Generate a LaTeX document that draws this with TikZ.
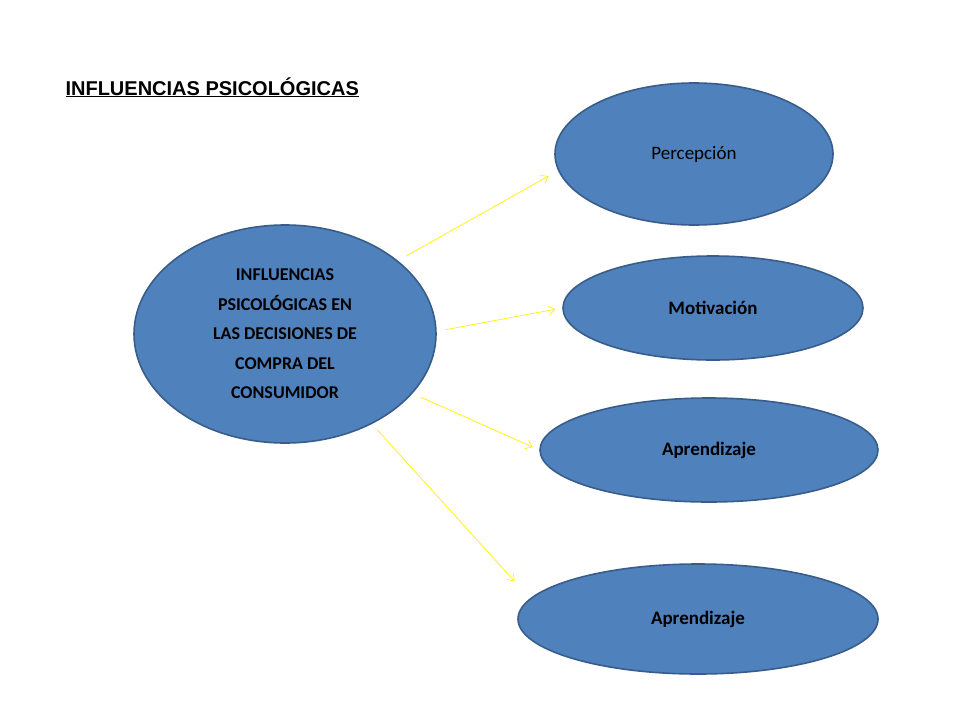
\documentclass[tikz,border=0pt]{standalone}
\usepackage{fontspec}
\setmainfont{Carlito}
\newfontfamily\arialfont{Liberation Sans}
\usetikzlibrary{shapes.geometric}
\definecolor{blobfill}{HTML}{4F81BD}
\definecolor{blobline}{HTML}{385D8A}
\tikzset{blob/.style={ellipse,fill=blobfill,draw=blobline,line width=1.6pt,inner sep=0pt},
 link/.style={-{Straight Barb[length=6pt,width=9pt]},draw=yellow,line width=0.7pt}}
\usetikzlibrary{arrows.meta}
\begin{document}
\begin{tikzpicture}[x=1pt,y=-1pt]
 \useasboundingbox[fill=white](0,0) rectangle (960,720);
 \node[anchor=base west,font=\arialfont\bfseries\fontsize{20}{24}\selectfont] (title) at (62,95) {\underline{INFLUENCIAS PSICOLÓGICAS}};
 \node[blob,minimum width=302,minimum height=218,align=center,font=\bfseries\fontsize{18}{29.5}\selectfont] (cons) at (285,334) {INFLUENCIAS\\PSICOLÓGICAS EN\\LAS DECISIONES DE\\COMPRA DEL\\CONSUMIDOR};
 \node[blob,minimum width=278,minimum height=142,font=\fontsize{19}{22}\selectfont] (perc) at (694,154) {Percepción};
 \node[blob,minimum width=300,minimum height=104,font=\bfseries\fontsize{19}{22}\selectfont] (moti) at (713,308) {Motivación};
 \node[blob,minimum width=338,minimum height=104,font=\bfseries\fontsize{19}{22}\selectfont] (apre) at (709,450) {Aprendizaje};
 \node[blob,minimum width=360,minimum height=110,font=\bfseries\fontsize{19}{22}\selectfont] (aprb) at (698,619) {Aprendizaje};
 \draw[link,shorten <=10pt,shorten >=11pt](cons.33)--(perc.187);
 \draw[link,shorten <=9pt,shorten >=7pt](cons.1)--(moti.180);
 \draw[link,shorten <=9pt,shorten >=7pt](cons.-25)--(apre.180);
 \draw[link,shorten <=8pt,shorten >=23pt](cons.-46)--(aprb.173);
\end{tikzpicture}
\end{document}
